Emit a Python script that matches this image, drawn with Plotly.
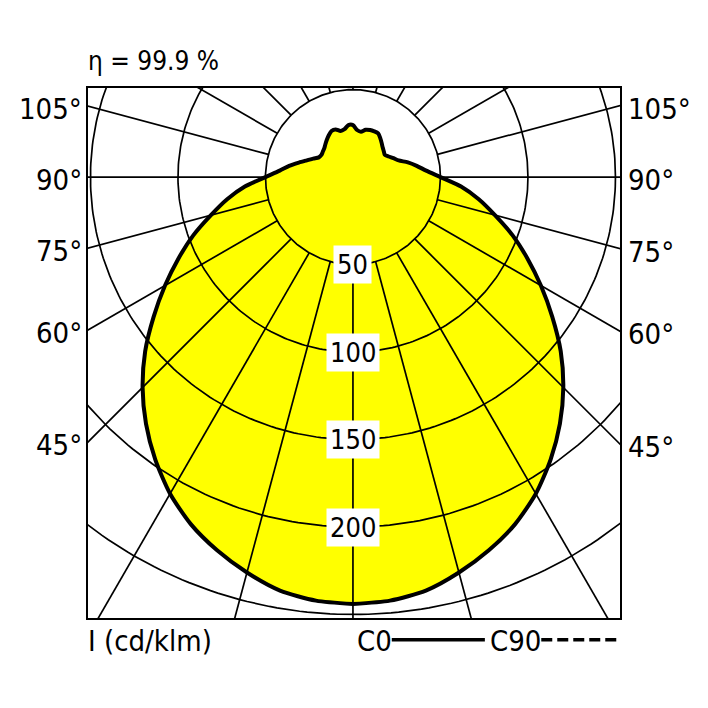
import numpy as np
import plotly.graph_objects as go

# light distribution curve, I in cd/klm, gamma measured from nadir
gamma = [0, 5, 10, 15, 20, 25, 30, 35, 40, 45, 50, 55, 60, 65, 70, 75, 80, 85, 90,
         95, 100, 105, 110, 115, 120, 125, 130, 135, 140, 145, 150, 155, 160, 165, 170, 175, 180]
i_c0 = [244, 243, 240, 234, 227, 219, 209, 197, 184, 170, 155, 139, 124, 110, 97, 84, 73, 62, 50,
        42, 37, 32.5, 27.8, 25.5, 23.5, 22.2, 23, 24, 25.5, 27.2, 28.8, 28.8, 28.6, 28, 26.3, 27, 29.7]
i_c180 = [244, 243, 240, 234, 227, 219, 209, 197, 184, 170, 155, 139, 124, 110, 97, 84, 73, 62, 50,
          42, 37, 32, 28, 25, 22.5, 22, 22.5, 23.2, 24.5, 26, 27.6, 29, 29, 27.3, 27.8, 29.8, 29.7]

ring_values = [50, 100, 150, 200, 250]
ring_labels = [50, 100, 150, 200]
spoke_angles = list(range(0, 360, 15))
angle_labels = [45, 60, 75, 90, 105]
efficiency = "η = 99.9 %"
unit_label = "I (cd/klm)"

X_RANGE = [-151.4, 152.6]
Y_RANGE = [-252.0, 50.9]
FONT = "DejaVu Sans Condensed, Liberation Sans Narrow, sans-serif"
YELLOW = "#ffff00"


def to_xy(g_deg, r, side=1):
    g = np.radians(np.asarray(g_deg, dtype=float))
    r = np.asarray(r, dtype=float)
    return side * r * np.sin(g), -r * np.cos(g)


# closed curve: C180 half (left) from 180 to 0, then C0 half (right) from 0 to 180
xl, yl = to_xy(gamma[::-1], i_c180[::-1], side=-1)
xr, yr = to_xy(gamma, i_c0, side=1)
curve_x = np.concatenate([xl, xr])
curve_y = np.concatenate([yl, yr])

fig = go.Figure()

fig.add_trace(go.Scatter(x=curve_x, y=curve_y, mode="lines", fill="toself",
                         fillcolor=YELLOW, line=dict(width=0, shape="spline", smoothing=0.7),
                         hoverinfo="skip"))

# grid circles
t = np.linspace(0, 2 * np.pi, 361)
gx, gy = [], []
for rv in ring_values:
    gx += list(rv * np.cos(t)) + [None]
    gy += list(rv * np.sin(t)) + [None]
# spokes start at the inner ring
for a in spoke_angles:
    sx, sy = to_xy([a, a], [ring_values[0], 400])
    gx += list(sx) + [None]
    gy += list(sy) + [None]
fig.add_trace(go.Scatter(x=gx, y=gy, mode="lines", line=dict(color="black", width=1.7),
                         hoverinfo="skip"))

fig.add_trace(go.Scatter(x=curve_x, y=curve_y, mode="lines",
                         line=dict(color="black", width=4, shape="spline", smoothing=0.7),
                         hoverinfo="skip"))

annotations = []
for v in ring_labels:
    annotations.append(dict(x=0, y=-v, xref="x", yref="y", text=str(v), showarrow=False,
                            font=dict(size=27, color="black", family=FONT),
                            bgcolor="white", borderpad=3))

for a in angle_labels:
    cot = np.cos(np.radians(a)) / np.sin(np.radians(a))
    annotations.append(dict(x=0, xref="paper", y=X_RANGE[0] * cot, yref="y",
                            text=f"{a}°", showarrow=False, xanchor="right", xshift=-4,
                            yshift=-3, font=dict(size=29, color="black", family=FONT)))
    annotations.append(dict(x=1, xref="paper", y=-X_RANGE[1] * cot, yref="y",
                            text=f"{a}°", showarrow=False, xanchor="left", xshift=6,
                            yshift=-3, font=dict(size=29, color="black", family=FONT)))

annotations.append(dict(x=0, y=1, xref="paper", yref="paper", text=efficiency, showarrow=False,
                        xanchor="left", yanchor="middle", yshift=27, xshift=-2,
                        font=dict(size=26, color="black", family=FONT)))
annotations.append(dict(x=0, y=0, xref="paper", yref="paper", text=unit_label, showarrow=False,
                        xanchor="left", yanchor="middle", yshift=-23, xshift=-2,
                        font=dict(size=29, color="black", family=FONT)))
annotations.append(dict(x=0.502, y=0, xref="paper", yref="paper", text="C0", showarrow=False,
                        xanchor="left", yanchor="middle", yshift=-23,
                        font=dict(size=29, color="black", family=FONT)))
annotations.append(dict(x=0.752, y=0, xref="paper", yref="paper", text="C90", showarrow=False,
                        xanchor="left", yanchor="middle", yshift=-23,
                        font=dict(size=29, color="black", family=FONT)))

shapes = [
    dict(type="line", xref="paper", yref="paper", x0=0.571, x1=0.746, y0=-0.041, y1=-0.041,
         line=dict(color="black", width=3.5)),
    dict(type="line", xref="paper", yref="paper", x0=0.852, x1=0.996, y0=-0.041, y1=-0.041,
         line=dict(color="black", width=3.5, dash="11px,5px")),
]

axis = dict(showgrid=False, zeroline=False, showticklabels=False, ticks="",
            showline=True, mirror=True, linecolor="black", linewidth=2, fixedrange=True)

# the page body adds an 8px offset, so the margins are shifted to compensate
fig.update_layout(
    width=708, height=708, autosize=False,
    margin=dict(l=80, r=96, t=80, b=98),
    paper_bgcolor="white", plot_bgcolor="white",
    showlegend=False,
    xaxis=dict(range=X_RANGE, **axis),
    yaxis=dict(range=Y_RANGE, **axis),
    annotations=annotations,
    shapes=shapes,
)

fig.write_html("out.html")
